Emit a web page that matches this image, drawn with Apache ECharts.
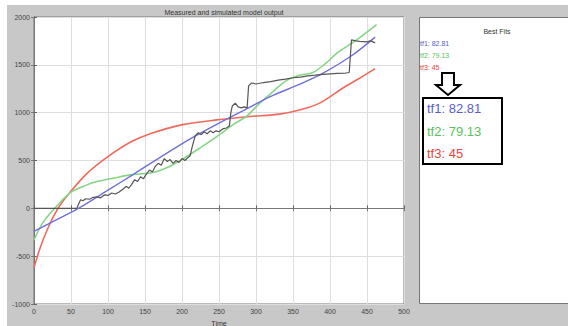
<!DOCTYPE html>
<html>
<head>
<meta charset="utf-8">
<script src="https://cdn.jsdelivr.net/npm/echarts@6/dist/echarts.min.js"></script>
<style>html,body{margin:0;padding:0;}#c{width:568px;height:326px;}</style>
</head>
<body>
<div id="c"></div>
<script>
// X ticks / Y ticks
const xTicks = [0, 50, 100, 150, 200, 250, 300, 350, 400, 450, 500];
const yTicks = [-1000, -500, 0, 500, 1000, 1500, 2000];

// Measured output (time, value)
const measuredT = [0, 20, 40, 58, 60, 63, 66, 70, 75, 80, 85, 90, 95, 100, 105, 110, 115, 120, 125, 128, 132, 136, 140, 144, 148, 152, 156, 160, 164, 168, 172, 176, 180, 184, 188, 192, 196, 200, 204, 208, 211, 214, 218, 222, 226, 230, 234, 238, 242, 246, 250, 255, 260, 264, 266, 268, 272, 276, 280, 284, 288, 290, 294, 300, 310, 320, 330, 340, 350, 360, 370, 380, 390, 400, 410, 420, 426, 429, 435, 440, 450, 455, 461];
const measuredV = [0, 0, 0, 0, 40, 90, 80, 100, 95, 115, 120, 110, 140, 135, 160, 150, 170, 200, 230, 210, 250, 300, 280, 330, 310, 360, 400, 380, 440, 470, 450, 520, 490, 510, 470, 500, 480, 520, 500, 530, 550, 650, 760, 790, 770, 800, 780, 810, 790, 810, 800, 830, 840, 860, 1000, 1070, 1100, 1060, 1050, 1060, 1050, 1280, 1310, 1300, 1315, 1325, 1340, 1350, 1365, 1372, 1385, 1392, 1400, 1405, 1410, 1412, 1420, 1760, 1750, 1745, 1740, 1750, 1730];

// Model tf1 (blue)
const tf1T = [0, 30, 60, 100, 130, 170, 210, 250, 290, 320, 360, 390, 430, 461];
const tf1V = [-240, -120, 0, 190, 335, 530, 720, 890, 1050, 1170, 1300, 1410, 1600, 1790];

// Model tf2 (green)
const tf2T = [0, 12, 28, 49, 70, 85, 110, 130, 157, 170, 185, 201, 224, 247, 270, 287, 305, 320, 340, 359, 377, 395, 409, 436, 463];
const tf2V = [-330, -150, 0, 165, 240, 280, 320, 350, 370, 395, 445, 515, 630, 750, 880, 960, 1100, 1200, 1330, 1390, 1420, 1520, 1620, 1760, 1920];

// Model tf3 (red)
const tf3T = [0, 8, 17, 26, 35, 49, 71, 98, 130, 157, 201, 247, 292, 332, 360, 386, 418, 440, 461];
const tf3V = [-620, -420, -240, -90, 30, 170, 360, 530, 690, 780, 875, 925, 960, 985, 1030, 1100, 1260, 1360, 1460];

const fitLabels = ['tf1: 82.81', 'tf2: 79.13', 'tf3: 45'];
const fitColors = ['#5a5acb', '#5cbf5c', '#e8463a'];

function pairs(t, v) { return t.map((x, i) => [x, v[i]]); }

const chart = echarts.init(document.getElementById('c'), null, {renderer: 'svg'});
const axisLbl = {fontSize: 7, color: '#444', fontFamily: 'Liberation Sans', formatter: v => String(v)};
chart.setOption({
  backgroundColor: '#c8c8c8',
  animation: false,
  title: {
    text: 'Measured and simulated model output',
    left: 219, top: 4, textAlign: 'center',
    textStyle: {fontSize: 7, fontWeight: 'normal', color: '#333', fontFamily: 'Liberation Sans'}
  },
  grid: {left: 34, right: 164, top: 17, bottom: 22, outerBoundsMode: 'none', containLabel: false, show: true, backgroundColor: '#ffffff', borderColor: '#777', borderWidth: 1},
  xAxis: [{
    type: 'value', min: 0, max: 500, interval: 50,
    name: 'Time', nameLocation: 'middle', nameGap: 11,
    nameTextStyle: {fontSize: 7, color: '#333', fontFamily: 'Liberation Sans'},
    axisLine: {lineStyle: {color: '#666'}},
    axisTick: {inside: true, length: 3, lineStyle: {color: '#666'}},
    axisLabel: Object.assign({margin: 4}, axisLbl),
    splitLine: {lineStyle: {color: '#dedede'}}
  }, {
    type: 'value', min: 0, max: 500, interval: 50, position: 'top',
    axisLine: {lineStyle: {color: '#777'}},
    axisTick: {inside: true, length: 3, lineStyle: {color: '#777'}},
    axisLabel: {show: false}, splitLine: {show: false}
  }],
  yAxis: [{
    type: 'value', min: -1000, max: 2000, interval: 500,
    axisLine: {show: true, lineStyle: {color: '#666'}},
    axisTick: {show: true, inside: true, length: 3, lineStyle: {color: '#666'}},
    axisLabel: Object.assign({margin: 4}, axisLbl),
    splitLine: {lineStyle: {color: '#dedede'}}
  }, {
    type: 'value', min: -1000, max: 2000, interval: 500, position: 'right',
    axisLine: {show: true, lineStyle: {color: '#777'}},
    axisTick: {show: true, inside: true, length: 3, lineStyle: {color: '#777'}},
    axisLabel: {show: false}, splitLine: {show: false}
  }],
  series: [
    {type: 'line', data: pairs(tf3T, tf3V), smooth: 0.3, showSymbol: false, lineStyle: {color: '#f06a5c', width: 1.6}},
    {type: 'line', data: pairs(tf2T, tf2V), smooth: 0.3, showSymbol: false, lineStyle: {color: '#86d486', width: 1.6}},
    {type: 'line', data: pairs(tf1T, tf1V), smooth: 0.3, showSymbol: false, lineStyle: {color: '#6f6fd8', width: 1.4}},
    {type: 'line', data: pairs(measuredT, measuredV), showSymbol: false, lineStyle: {color: '#555', width: 1.2}}
  ],
  graphic: [
    {type: 'rect', shape: {x: 0, y: 0, width: 7, height: 326}, style: {fill: '#fff'}, silent: true},
    {type: 'rect', shape: {x: 0, y: 0, width: 568, height: 5}, style: {fill: '#fff'}, silent: true},
    {type: 'rect', shape: {x: 419.5, y: 17.5, width: 150, height: 286}, style: {fill: '#fff', stroke: '#777', lineWidth: 1}, silent: true},
    {type: 'text', style: {text: 'Best Fits', x: 497, y: 31, fontSize: 7, fill: '#333', align: 'center', verticalAlign: 'middle', fontFamily: 'Liberation Sans'}},
    {type: 'text', style: {text: fitLabels[0], x: 420, y: 43, fontSize: 7, fill: fitColors[0], verticalAlign: 'middle', fontFamily: 'Liberation Sans'}},
    {type: 'text', style: {text: fitLabels[1], x: 420, y: 55, fontSize: 7, fill: fitColors[1], verticalAlign: 'middle', fontFamily: 'Liberation Sans'}},
    {type: 'text', style: {text: fitLabels[2], x: 420, y: 67, fontSize: 7, fill: fitColors[2], verticalAlign: 'middle', fontFamily: 'Liberation Sans'}},
    {type: 'polygon', shape: {points: [[442, 73], [454, 73], [454, 85], [460, 85], [448, 95], [436, 85], [442, 85]]}, style: {fill: '#fff', stroke: '#000', lineWidth: 2}},
    {type: 'rect', shape: {x: 423, y: 98, width: 79, height: 66}, style: {fill: 'none', stroke: '#000', lineWidth: 2}},
    {type: 'text', style: {text: fitLabels[0], x: 427, y: 108, fontSize: 13, fill: fitColors[0], verticalAlign: 'middle', fontFamily: 'Liberation Sans'}},
    {type: 'text', style: {text: fitLabels[1], x: 427, y: 131, fontSize: 13, fill: fitColors[1], verticalAlign: 'middle', fontFamily: 'Liberation Sans'}},
    {type: 'text', style: {text: fitLabels[2], x: 427, y: 153, fontSize: 13, fill: fitColors[2], verticalAlign: 'middle', fontFamily: 'Liberation Sans'}}
  ]
});
</script>
</body>
</html>
